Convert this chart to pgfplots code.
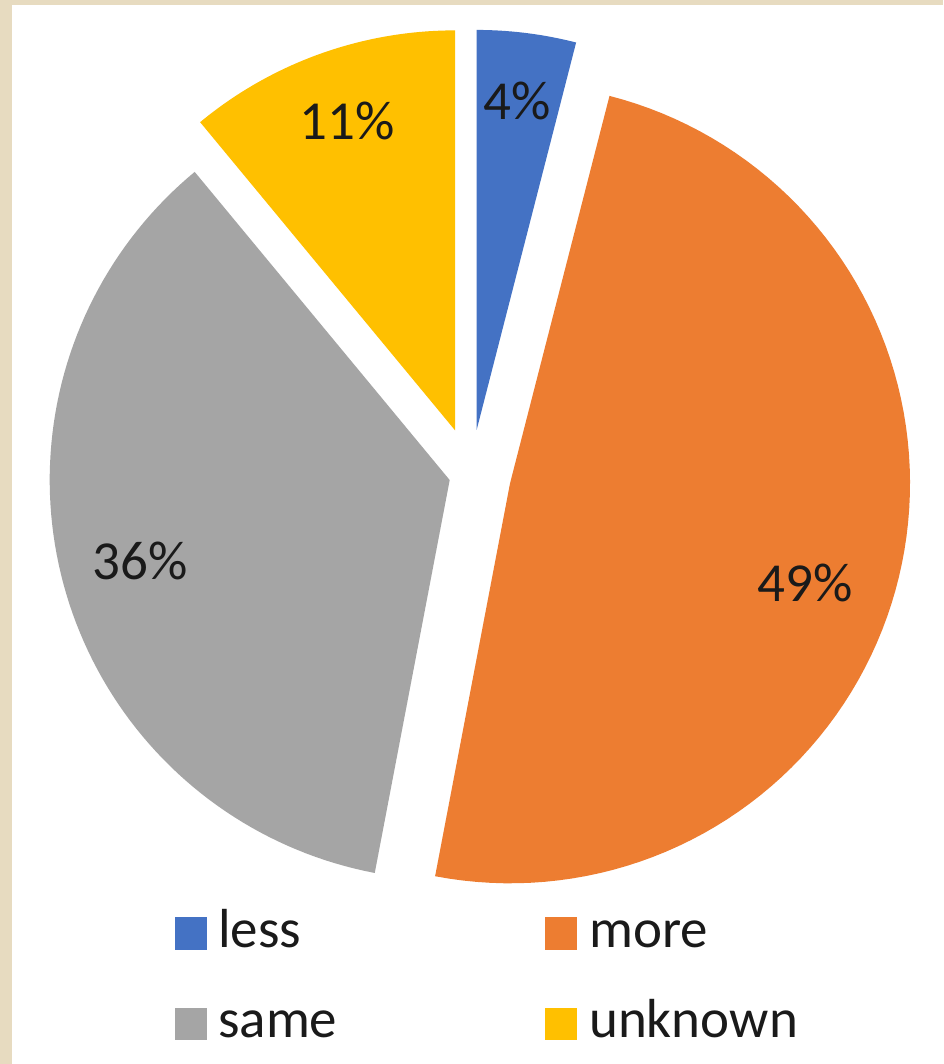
\documentclass[border=0pt]{standalone}
\usepackage{pgfplots}
\usepackage{pgfplotstable}
\pgfplotsset{compat=1.18}
\usepackage{fontspec}
\setmainfont{Carlito}
\definecolor{pieblue}{HTML}{4472C4}
\definecolor{pieorange}{HTML}{ED7D31}
\definecolor{piegray}{HTML}{A5A5A5}
\definecolor{pieyellow}{HTML}{FFC000}
\definecolor{paper}{RGB}{231,219,192}
\definecolor{txt}{HTML}{1A1A1A}

\pgfplotstableread{
label value explode
less 4 45
more 49 40
same 36 22
unknown 11 47
}\piedata

\def\cx{471}\def\cy{589.4}\def\R{400}

\newcommand\getval[3]{\pgfplotstablegetelem{#1}{#2}\of\piedata\edef#3{\pgfplotsretval}}

\newcommand\slice[4]{%
  \pgfmathsetmacro\midang{(#2+#3)/2}%
  \pgfmathsetmacro\ox{\cx+#4*sin(\midang)}%
  \pgfmathsetmacro\oy{\cy+#4*cos(\midang)}%
  \edef\doplot{\noexpand\addplot[fill=#1,draw=none,domain=#2:#3,samples=90,variable=\noexpand\t]
    ({\ox+\R*sin(\noexpand\t)},{\oy+\R*cos(\noexpand\t)}) -- (axis cs:\ox,\oy) -- cycle;}%
  \doplot
}

\begin{document}
\begin{tikzpicture}
\getval{0}{value}\vA \getval{1}{value}\vB \getval{2}{value}\vC \getval{3}{value}\vD
\getval{0}{explode}\eA \getval{1}{explode}\eB \getval{2}{explode}\eC \getval{3}{explode}\eD
\pgfmathsetmacro\bA{3.6*\vA}
\pgfmathsetmacro\bB{\bA+3.6*\vB}
\pgfmathsetmacro\bC{\bB+3.6*\vC}
\pgfmathsetmacro\bD{\bC+3.6*\vD}
\begin{axis}[at={(0,0)},anchor=south west, scale only axis,
  width=943pt,height=1064pt, xmin=0,xmax=943,ymin=0,ymax=1064,
  hide axis, clip=false]
\fill[paper] (axis cs:0,0) rectangle (axis cs:943,1064);
\fill[white] (axis cs:12,0) rectangle (axis cs:943,1059);
\slice{pieblue}{0}{\bA}{\eA}
\slice{pieorange}{\bA}{\bB}{\eB}
\slice{piegray}{\bB}{\bC}{\eC}
\slice{pieyellow}{\bC}{\bD}{\eD}
\tikzset{lab/.style={anchor=base, inner sep=0pt, text=txt, font=\fontsize{55}{60}\selectfont}}
\node[lab] at (axis cs:517,944) {4\%};
\node[lab] at (axis cs:347,924) {11\%};
\node[lab] at (axis cs:140,484) {36\%};
\node[lab] at (axis cs:805,462) {49\%};
\tikzset{leg/.style={anchor=base west, inner sep=0pt, text=txt, font=\fontsize{55}{60}\selectfont}}
\fill[pieblue] (axis cs:175,114) rectangle (axis cs:207,147);
\node[leg] at (axis cs:218,116) {less};
\fill[pieorange] (axis cs:545,114) rectangle (axis cs:577,147);
\node[leg] at (axis cs:589,116) {more};
\fill[piegray] (axis cs:175,24) rectangle (axis cs:207,56);
\node[leg] at (axis cs:218,27) {same};
\fill[pieyellow] (axis cs:545,24) rectangle (axis cs:577,56);
\node[leg] at (axis cs:589,27) {unknown};
\end{axis}
\end{tikzpicture}
\end{document}
